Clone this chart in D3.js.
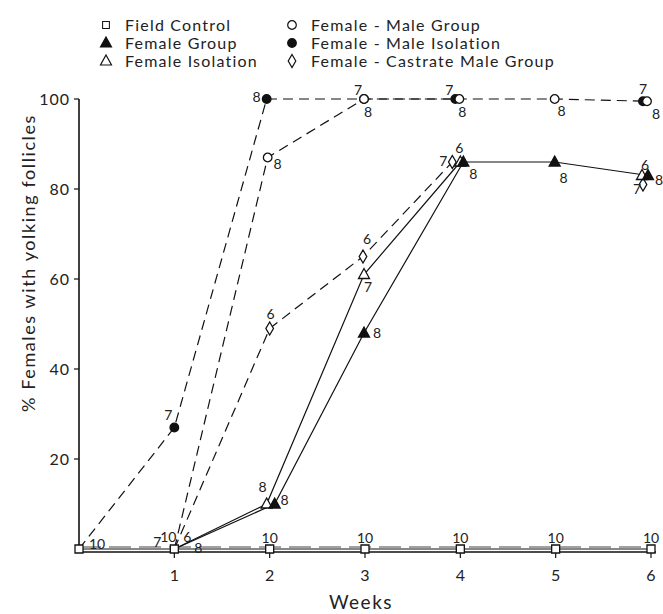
<!DOCTYPE html>
<html>
<head>
<meta charset="utf-8">
<script src="https://cdn.jsdelivr.net/npm/d3@7"></script>
<style>
  body { margin: 0; background: #fff; }
  text { font-family: Lato, "Noto Sans", sans-serif; fill: #222; }
</style>
</head>
<body>
<svg id="chart" width="663" height="614"></svg>
<script>
// weeks on the x axis
var weeks = [0, 1, 2, 3, 4, 5, 6];
var yTicks = [20, 40, 60, 80, 100];

// % females with yolking follicles (null = not plotted)
var fieldControl    = [0, 0, 0, 0, 0, 0, 0];
var femaleGroup     = [null, 0, 10, 48, 86, 86, 83];
var femaleIsolation = [null, 0, 10, 61, 86, null, 83];
var fmGroup         = [null, 0, 87, 100, 100, 100, 99.5];
var fmIsolation     = [0, 27, 100, 100, 100, null, 99.5];
var castrateGroup   = [null, 0, 49, 65, 86, null, 81];

// sample sizes written next to the points
var nFieldControl    = [10, 10, 10, 10, 10, 10, 10];
var nFemaleGroup     = [null, 8, 8, 8, 8, 8, 8];
var nFemaleIsolation = [null, 7, 8, 7, 6, null, 6];
var nFmGroup         = [null, null, 8, 8, 8, 8, 8];
var nFmIsolation     = [null, 7, 8, 7, 7, null, 7];
var nCastrateGroup   = [null, 6, 6, 6, 7, null, 7];

var svg = d3.select("#chart");

var x = d3.scaleLinear().domain([0, 6]).range([79, 651]);
var y = d3.scaleLinear().domain([0, 100]).range([549, 99]);
var baseY = 552;

// series: marker, dash, small x nudges (markers overlap in the original) and label offsets
var series = [
    {name: "Field Control", values: fieldControl, n: nFieldControl, shape: "square", fill: "#fff", dash: null,
     nudge: [0,0,0,0,0,0,0],
     lab: [[18,-5],[-6,-12],[0,-11],[0,-11],[0,-11],[0,-11],[0,-11]]},
    {name: "Female - Male Isolation", values: fmIsolation, n: nFmIsolation, shape: "circle", fill: "#111", dash: "10,6",
     nudge: [0,0,-3,-1,-5,0,-8],
     lab: [null,[-6,-12],[-10,-2],[-6,-9],[-6,-9],null,[0,-12]]},
    {name: "Female - Male Group", values: fmGroup, n: nFmGroup, shape: "circle", fill: "#fff", dash: "10,6",
     nudge: [0,0,-2,-1,-1,-1,-4],
     lab: [null,null,[10,7],[4,13],[3,13],[7,12],[9,13]]},
    {name: "Female - Castrate Male Group", values: castrateGroup, n: nCastrateGroup, shape: "diamond", fill: "#fff", dash: "10,6",
     nudge: [0,0,0,-2,-8,0,-8],
     lab: [null,[13,-12],[1,-14],[4,-17],[-9,-1],null,[-6,5]]},
    {name: "Female Isolation", values: femaleIsolation, n: nFemaleIsolation, shape: "triangle", fill: "#fff", dash: null,
     nudge: [0,0,-3,-1,0,0,-9],
     lab: [null,[-17,-7],[-4,-17],[4,13],[-1,-14],null,[3,-10]]},
    {name: "Female Group", values: femaleGroup, n: nFemaleGroup, shape: "triangle", fill: "#111", dash: null,
     nudge: [0,0,5,-1,3,-1,-3],
     lab: [null,[24,-1],[10,-4],[13,0],[10,12],[9,16],[11,5]]}
];

function px(s, i) { return x(weeks[i]) + s.nudge[i]; }

function shapePath(shape) {
    if (shape == "square") return "M-4,-4H4V4H-4Z";
    if (shape == "triangle") return "M0,-6L5.5,4L-5.5,4Z";
    if (shape == "diamond") return "M0,-6.5L3.8,0L0,6.5L-3.8,0Z";
    return d3.symbol().type(d3.symbolCircle).size(58)();
}

// axes
svg.append("line")
    .attr("x1", x(0)).attr("x2", x(6) + 5)
    .attr("y1", baseY).attr("y2", baseY)
    .attr("stroke", "#111").attr("stroke-width", 1.6);
svg.append("line")
    .attr("x1", x(0)).attr("x2", x(0))
    .attr("y1", baseY).attr("y2", y(100))
    .attr("stroke", "#111").attr("stroke-width", 1.6);

svg.selectAll(".xtick")
    .data(weeks.slice(1))
    .enter().append("line")
    .attr("x1", function(d) { return x(d); }).attr("x2", function(d) { return x(d); })
    .attr("y1", baseY).attr("y2", baseY + 6)
    .attr("stroke", "#111").attr("stroke-width", 1.2);
svg.selectAll(".xlab")
    .data(weeks.slice(1))
    .enter().append("text")
    .attr("x", function(d) { return x(d); })
    .attr("y", 581)
    .attr("text-anchor", "middle")
    .style("font-size", "16px")
    .text(function(d) { return d; });

svg.selectAll(".ytick")
    .data(yTicks)
    .enter().append("line")
    .attr("x1", x(0) - 5).attr("x2", x(0))
    .attr("y1", function(d) { return y(d); }).attr("y2", function(d) { return y(d); })
    .attr("stroke", "#111").attr("stroke-width", 1.2);
svg.selectAll(".ylab")
    .data(yTicks)
    .enter().append("text")
    .attr("x", 70)
    .attr("y", function(d) { return y(d); })
    .attr("dy", "0.35em")
    .attr("text-anchor", "end")
    .style("font-size", "16px")
    .style("letter-spacing", "1px")
    .text(function(d) { return d; });

svg.append("text")
    .attr("x", 361).attr("y", 609)
    .attr("text-anchor", "middle")
    .style("font-size", "19px")
    .style("letter-spacing", "1.5px")
    .text("Weeks");

svg.append("text")
    .attr("transform", "translate(35,263) rotate(-90)")
    .attr("text-anchor", "middle")
    .style("font-size", "18px")
    .style("letter-spacing", "1.6px")
    .text("% Females with yolking follicles");

// lines
series.forEach(function(s) {
    var line = d3.line()
        .defined(function(d, i) { return s.values[i] != null; })
        .x(function(d, i) { return px(s, i); })
        .y(function(d, i) { return y(d); });
    svg.append("path")
        .datum(s.values)
        .attr("fill", "none")
        .attr("stroke", "#111")
        .attr("stroke-width", 1.2)
        .attr("stroke-dasharray", s.dash)
        .attr("d", line);
    if (s.shape == "square") {
        // the control line is drawn doubled in the original
        svg.append("path")
            .datum(s.values)
            .attr("fill", "none")
            .attr("stroke", "#444")
            .attr("stroke-width", 1.2)
            .attr("stroke-dasharray", "22,8")
            .attr("transform", "translate(0,-2)")
            .attr("d", line);
    }
});

// markers and sample sizes
series.forEach(function(s) {
    s.values.forEach(function(v, i) {
        if (v == null) return;
        if (v == 0 && s.shape != "square") return; // hidden under the control squares
        svg.append("path")
            .attr("d", shapePath(s.shape))
            .attr("transform", "translate(" + px(s, i) + "," + y(v) + ")")
            .attr("fill", s.fill)
            .attr("stroke", "#111")
            .attr("stroke-width", 1.3);
    });
});
series.forEach(function(s) {
    s.values.forEach(function(v, i) {
        if (v == null || s.n[i] == null || !s.lab[i]) return;
        svg.append("text")
            .attr("x", px(s, i) + s.lab[i][0])
            .attr("y", y(v) + s.lab[i][1])
            .attr("dy", "0.35em")
            .attr("text-anchor", "middle")
            .style("font-size", "14px")
            .text(s.n[i]);
    });
});

// legend
var legendOrder = [
    {s: series[0], col: 0, row: 0},
    {s: series[5], col: 0, row: 1},
    {s: series[4], col: 0, row: 2},
    {s: series[2], col: 1, row: 0},
    {s: series[1], col: 1, row: 1},
    {s: series[3], col: 1, row: 2}
];
var legend = svg.append("g");
legendOrder.forEach(function(d) {
    var lx = d.col == 0 ? 106 : 292;
    var ly = 25 + d.row * 18;
    legend.append("path")
        .attr("d", shapePath(d.s.shape))
        .attr("transform", "translate(" + lx + "," + ly + ")" + (d.s.shape == "square" ? " scale(0.85)" : ""))
        .attr("fill", d.s.fill)
        .attr("stroke", "#111")
        .attr("stroke-width", 1.2);
    legend.append("text")
        .attr("x", lx + 19)
        .attr("y", ly)
        .attr("dy", "0.35em")
        .style("font-size", "16px")
        .style("letter-spacing", "1.2px")
        .text(d.s.name);
});
</script>
</body>
</html>
